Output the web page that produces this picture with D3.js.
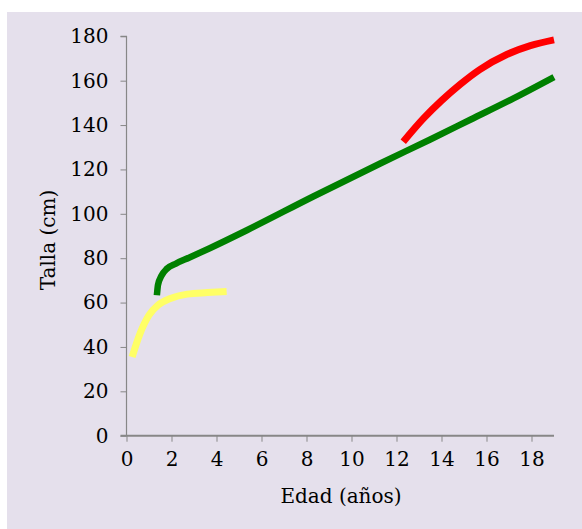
<!DOCTYPE html>
<html><head><meta charset="utf-8">
<script src="https://cdn.jsdelivr.net/npm/d3@7/dist/d3.min.js"></script>
<style>body{margin:0;background:#fff;}svg{display:block;}</style>
</head><body>
<svg id="chart" width="582" height="529"></svg>
<script>
const xTicks = [0,2,4,6,8,10,12,14,16,18];
const yTicks = [0,20,40,60,80,100,120,140,160,180];
const yellowX = [0.25, 0.6, 1.0, 1.4, 1.95, 2.7, 3.6, 4.45];
const yellowY = [35.5, 46, 54.3, 58.8, 61.8, 63.8, 64.5, 65.0];
const greenX = [1.35, 1.4, 1.55, 1.8, 2.2, 2.8, 3.7, 5.35, 8.3, 11.3, 13.5, 15.3, 17.2, 19.0];
const greenY = [63.3, 68, 72, 75.3, 77.6, 80.3, 84.5, 92.6, 107.8, 122.8, 133.5, 142.5, 152, 161.6];
const redX = [12.3, 13.2, 14.0, 14.85, 15.7, 16.9, 17.95, 19.0];
const redY = [132.5, 143, 151, 158.5, 165, 171.8, 175.8, 178.4];
const xLabel = "Edad (años)";
const yLabel = "Talla (cm)";

const svg = d3.select("#chart");
svg.append("rect").attr("x",7).attr("y",12).attr("width",575).attr("height",517).attr("fill","#e5e0ec");

const x = d3.scaleLinear().domain([0,19]).range([126.5,554]);
const y = d3.scaleLinear().domain([0,180]).range([435.7,36.3]);
const font = "'DejaVu Serif', serif";

const line = d3.line().x(d=>x(d[0])).y(d=>y(d[1])).curve(d3.curveMonotoneX);
const series = [
  {xs: yellowX, ys: yellowY, color:"#ffff66", w:7},
  {xs: greenX, ys: greenY, color:"#008000", w:6.5},
  {xs: redX, ys: redY, color:"#ff0000", w:7}
];

const yAxis = svg.append("g").attr("transform",`translate(${x(0)},0)`)
  .call(d3.axisLeft(y).tickValues(yTicks).tickSize(6).tickPadding(12).tickFormat(d3.format("d")));
const xAxis = svg.append("g").attr("transform",`translate(0,${y(0)})`)
  .call(d3.axisBottom(x).tickValues(xTicks).tickSize(6).tickPadding(10).tickFormat(d3.format("d")));
[yAxis,xAxis].forEach(a=>{
  a.select(".domain").attr("stroke","#878787");
  a.selectAll(".tick line").attr("stroke","#878787");
  a.selectAll(".tick text").attr("fill","#000").style("font-family",font).style("font-size","20px");
});
yAxis.select(".domain").attr("d",`M0,${y(0)}V${y(180)}H-6`).attr("stroke-width",1.2);
xAxis.select(".domain").attr("d",`M${x(0)-6},0H${x(19)}`).attr("stroke-width",2);

series.forEach(s=>{
  svg.append("path").datum(s.xs.map((v,i)=>[v,s.ys[i]]))
    .attr("d",line).attr("fill","none").attr("stroke",s.color)
    .attr("stroke-width",s.w).attr("stroke-linecap","butt").attr("stroke-linejoin","round");
});

svg.append("text").attr("x",341).attr("y",503).attr("text-anchor","middle")
  .style("font-family",font).style("font-size","20px").attr("fill","#000").text(xLabel);
svg.append("text").attr("transform","translate(55,240) rotate(-90)").attr("text-anchor","middle")
  .style("font-family",font).style("font-size","20px").attr("fill","#000").text(yLabel);
</script>
</body></html>
